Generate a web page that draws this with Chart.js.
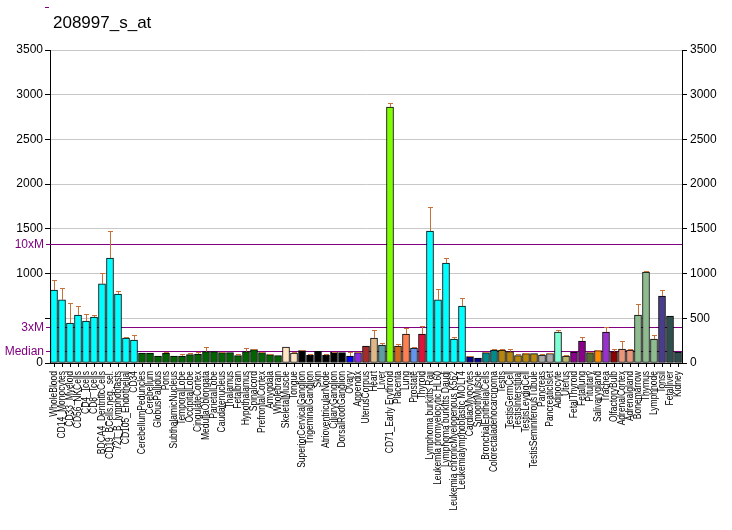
<!DOCTYPE html>
<html>
<head>
<meta charset="utf-8">
<script src="https://cdn.jsdelivr.net/npm/chart.js@4"></script>
<style>
  body { margin: 0; background: #fff; }
  #wrap { width: 732px; height: 530px; }
</style>
</head>
<body>
<div id="wrap"><canvas id="chart" width="732" height="530"></canvas></div>
<script>
const title = '208997_s_at';

const tissues = [
  'WholeBlood', 'CD14_Monocytes', 'CD33_Myeloid', 'CD56_NKCells', 'CD4_Tcells', 'CD8_Tcells',
  'BDCA4_DentriticCells', 'CD19_BCells.neg._sel.', '721_B_lymphoblasts', 'CD105_Endothelial', 'CD34',
  'CerebellumPeduncles', 'Cerebellum', 'GlobusPallidus', 'Pons', 'SubthalamicNucleus', 'TemporalLobe',
  'OccipitalLobe', 'CingulateCortex', 'MedullaOblongata', 'ParietalLobe', 'Caudatenucleus', 'Thalamus',
  'Fetalbrain', 'Hypothalamus', 'Spinalcord', 'PrefrontalCortex', 'Amygdala', 'Wholebrain',
  'SkeletalMuscle', 'Tongue', 'SuperiorCervicalGanglion', 'TrigeminalGanglion', 'Skin',
  'AtrioventricularNode', 'CiliaryGanglion', 'DorsalRootGanglion', 'Ovary', 'Appendix', 'UterusCorpus',
  'Heart', 'Liver', 'CD71_Early Erythroid', 'Placenta', 'Lung', 'Prostate', 'Thyroid',
  'Lymphoma burkitts Raji', 'Leukemia promyelocytic HL60', 'Lymphoma burkitts Daudi',
  'Leukemia chronicMyelogenous K562', 'Leukemialymphoblastic MOLT4', 'CardiacMyocytes', 'SmoothMuscle',
  'BronchialEpithelialCells', 'Colorectaladenocarcinoma', 'Testis', 'TestisGermCell', 'TestisInterstitial',
  'TestisLeydigCell', 'TestisSeminiferousTubule', 'Pancreas', 'PancreaticIslet', 'Adipocyte', 'Uterus',
  'FetalThyroid', 'Fetallung', 'Pituitary', 'Salivarygland', 'Trachea', 'OlfactoryBulb', 'AdrenalCortex',
  'Adrenalgland', 'Bonemarrow', 'Thymus', 'Lymphnode', 'Tonsil', 'Fetalliver', 'Kidney'
];

const expression = [
  816, 705, 447, 537, 470, 514, 884, 1174, 772, 280, 257,
  112, 112, 78, 112, 78, 78, 93, 100, 127, 127, 116, 116, 82, 127, 149, 116, 93, 82,
  179, 112, 138, 86, 130, 86, 119, 116, 78, 116, 190, 280, 201, 2863, 190, 324, 168, 324,
  1476, 705, 1118, 268, 637, 71, 56, 116, 145, 145, 127, 82, 104, 104, 89, 104, 347, 78,
  123, 246, 116, 138, 347, 127, 157, 145, 537, 1018, 268, 749, 526, 123
];

// top of each error whisker
const errorTop = [
  928, 835, 671, 634, 548, 533, 1007, 1473, 805, 287, 313,
  112, 112, 78, 127, 78, 100, 115, 127, 179, 127, 127, 116, 100, 168, 160, 127, 104, 82,
  179, 123, 149, 97, 130, 97, 127, 116, 127, 127, 190, 369, 224, 2908, 212, 391, 179, 414,
  1745, 828, 1171, 291, 727, 78, 56, 123, 157, 157, 157, 100, 112, 104, 97, 112, 369, 86,
  123, 291, 127, 149, 399, 157, 246, 160, 660, 1029, 313, 816, 526, 123
];

const refLines = [
  { label: '10xM', value: 1330 },
  { label: '3xM', value: 400 },
  { label: 'Median', value: 133 }
];

const yTicks = [0, 500, 1000, 1500, 2000, 2500, 3000, 3500];

// bar colours, one per tissue
const barColors = [].concat(
  Array(11).fill('#00FFFF'),
  Array(18).fill('#006400'),
  Array(2).fill('#FFE4C4'),
  Array(6).fill('#000000'),
  ['#0000FF', '#8A2BE2', '#A52A2A', '#DEB887', '#5F9EA0', '#7FFF00', '#D2691E', '#FF7F50', '#6495ED', '#DC143C'],
  Array(5).fill('#00FFFF'),
  Array(2).fill('#00008B'),
  Array(2).fill('#008B8B'),
  Array(5).fill('#B8860B'),
  Array(2).fill('#A9A9A9'),
  ['#7FFFD4', '#BDB76B', '#8B008B', '#8B008B', '#556B2F', '#FF8C00', '#9932CC', '#8B0000', '#E9967A', '#E9967A'],
  Array(3).fill('#8FBC8F'),
  ['#483D8B', '#2F4F4F', '#2F4F4F']
);

const PURPLE = '#800080';
const ERR = '#C8703A';
const FONT = '"Liberation Sans", Arial, sans-serif';

const extras = {
  id: 'extras',
  beforeDatasetsDraw(chart) {
    const ctx = chart.ctx;
    const y = chart.scales.y;
    const area = chart.chartArea;
    ctx.save();
    ctx.strokeStyle = PURPLE;
    ctx.lineWidth = 1;
    ctx.fillStyle = PURPLE;
    ctx.font = '12px ' + FONT;
    ctx.textAlign = 'right';
    ctx.textBaseline = 'middle';
    refLines.forEach(r => {
      const py = Math.round(y.getPixelForValue(r.value)) + 0.5;
      ctx.beginPath();
      ctx.moveTo(area.left - 4, py);
      ctx.lineTo(area.right, py);
      ctx.stroke();
      ctx.fillText(r.label, area.left - 6, py);
    });
    ctx.restore();
  },
  afterDatasetsDraw(chart) {
    const ctx = chart.ctx;
    const y = chart.scales.y;
    const meta = chart.getDatasetMeta(0);
    ctx.save();
    ctx.strokeStyle = ERR;
    ctx.lineWidth = 1;
    meta.data.forEach((bar, i) => {
      if (errorTop[i] <= expression[i]) return;
      const x = Math.round(bar.x) + 0.5;
      const top = Math.round(y.getPixelForValue(errorTop[i])) + 0.5;
      ctx.beginPath();
      ctx.moveTo(x, bar.y);
      ctx.lineTo(x, top);
      ctx.moveTo(x - 2.5, top);
      ctx.lineTo(x + 2.5, top);
      ctx.stroke();
    });
    ctx.restore();
  },
  afterDraw(chart) {
    const ctx = chart.ctx;
    const xs = chart.scales.x;
    ctx.save();
    // category labels, rotated and slightly condensed
    ctx.fillStyle = '#000';
    ctx.font = '10px ' + FONT;
    ctx.textAlign = 'right';
    ctx.textBaseline = 'middle';
    tissues.forEach((name, i) => {
      const px = xs.getPixelForValue(i);
      ctx.save();
      ctx.translate(px + 0.5, xs.top + 8);
      ctx.rotate(-Math.PI / 2);
      ctx.scale(0.85, 1);
      ctx.fillText(name, 0, 0);
      ctx.restore();
    });
    ctx.font = '17px ' + FONT;
    ctx.textAlign = 'left';
    ctx.textBaseline = 'alphabetic';
    ctx.fillText(title, 53, 28);
    ctx.fillStyle = PURPLE;
    ctx.fillRect(45, 7, 4, 1);
    ctx.restore();
  }
};

new Chart(document.getElementById('chart'), {
  type: 'bar',
  data: {
    labels: tissues,
    datasets: [{
      data: expression,
      backgroundColor: barColors,
      borderColor: '#000',
      borderWidth: 1,
      barThickness: 7,
      borderSkipped: false
    }]
  },
  options: {
    responsive: false,
    animation: false,
    layout: { padding: { top: 50, left: 0, right: 0, bottom: 0 } },
    plugins: { legend: { display: false }, tooltip: { enabled: false } },
    scales: {
      x: {
        grid: { display: true, drawOnChartArea: false, offset: false, tickLength: 4, tickColor: '#000' },
        border: { color: '#000', width: 1 },
        ticks: { display: false, autoSkip: false },
        afterFit(s) { s.height = 167; }
      },
      y: {
        position: 'left',
        min: 0, max: 3500,
        afterBuildTicks(s) { s.ticks = yTicks.map(v => ({ value: v })); },
        grid: { color: '#C8C8C8', tickColor: '#000', tickLength: 5 },
        border: { color: '#000', width: 1 },
        ticks: {
          color: '#000', padding: 2,
          font: { family: FONT, size: 12 },
          callback: v => (v === 500 ? '' : String(v))
        },
        afterFit(s) { s.width = 50; }
      },
      y2: {
        position: 'right',
        min: 0, max: 3500,
        afterBuildTicks(s) { s.ticks = yTicks.map(v => ({ value: v })); },
        grid: { drawOnChartArea: false, tickColor: '#000', tickLength: 5 },
        border: { color: '#000', width: 1 },
        ticks: {
          color: '#000', padding: 3,
          font: { family: FONT, size: 12 },
          callback: v => String(v)
        },
        afterFit(s) { s.width = 50; }
      }
    }
  },
  plugins: [extras]
});
</script>
</body>
</html>
